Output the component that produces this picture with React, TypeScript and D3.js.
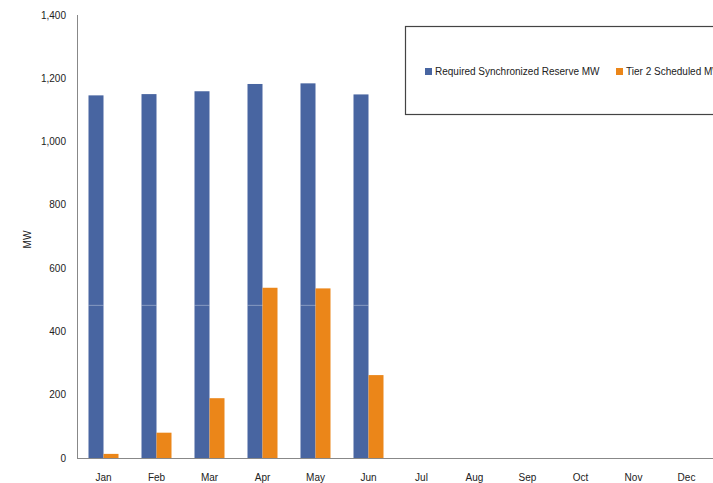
import React from "react";
import * as d3 from "d3";

const months = ["Jan", "Feb", "Mar", "Apr", "May", "Jun", "Jul", "Aug", "Sep", "Oct", "Nov", "Dec"];
const requiredMW: (number | null)[] = [1146, 1150, 1159, 1182, 1184, 1149, null, null, null, null, null, null];
const tier2MW: (number | null)[] = [13, 80, 189, 538, 536, 262, null, null, null, null, null, null];
const seriesNames = ["Required Synchronized Reserve MW", "Tier 2 Scheduled MW"];
const seriesColors = ["#4865A1", "#EB8619"];
const yTicks = [0, 200, 400, 600, 800, 1000, 1200, 1400];
const seamValue = 484;

const W = 713;
const H = 483;
const left = 77;
const right = 713;
const top = 15;
const bottom = 458;

export default function App() {
  const x = d3.scaleBand<string>().domain(months).range([left, right]).paddingInner(0.434).paddingOuter(0.217);
  const x1 = d3.scaleBand<number>().domain([0, 1]).range([0, x.bandwidth()]);
  const y = d3.scaleLinear().domain([0, 1400]).range([bottom, top]);
  const fmt = d3.format(",");
  const series = [requiredMW, tier2MW];
  const font = "'Liberation Sans', Arial, sans-serif";

  return (
    <svg width={W} height={H} style={{ position: "absolute", left: 0, top: 0 }} fontFamily={font}>
      <rect x={0} y={0} width={W} height={H} fill="#fff" />
      {series.map((vals, si) =>
        vals.map((v, i) =>
          v == null ? null : (
            <rect
              key={`${si}-${i}`}
              x={(x(months[i]) as number) + (x1(si) as number)}
              y={y(v)}
              width={x1.bandwidth()}
              height={y(0) - y(v)}
              fill={seriesColors[si]}
            />
          )
        )
      )}
      {requiredMW.map((v, i) =>
        v == null || v < seamValue ? null : (
          <line
            key={`seam-${i}`}
            x1={x(months[i]) as number}
            x2={(x(months[i]) as number) + x1.bandwidth()}
            y1={y(seamValue) + 0.5}
            y2={y(seamValue) + 0.5}
            stroke="#ffffff"
            strokeOpacity={0.35}
          />
        )
      )}
      <line x1={left + 0.5} x2={left + 0.5} y1={top} y2={bottom} stroke="#888" />
      <line x1={left} x2={right} y1={bottom + 0.5} y2={bottom + 0.5} stroke="#888" />
      {yTicks.map((t) => (
        <text key={t} x={66} y={y(t)} dy="0.35em" textAnchor="end" fontSize={10} fill="#222">
          {fmt(t)}
        </text>
      ))}
      {months.map((m) => (
        <text key={m} x={(x(m) as number) + x.bandwidth() / 2} y={477} dy="0.35em" textAnchor="middle" fontSize={10} fill="#222">
          {m}
        </text>
      ))}
      <text transform={`translate(27,${(top + bottom) / 2 + 3}) rotate(-90)`} textAnchor="middle" dy="0.35em" fontSize={10} fill="#222">
        MW
      </text>
      <rect x={405.5} y={26.5} width={320} height={88} fill="#fff" stroke="#444" strokeWidth={1.2} />
      {seriesNames.map((n, i) => {
        const lx = i === 0 ? 425 : 616;
        return (
          <g key={n}>
            <rect x={lx} y={68} width={7} height={7} fill={seriesColors[i]} />
            <text x={lx + 10} y={71.5} dy="0.35em" fontSize={10} fill="#222">
              {n}
            </text>
          </g>
        );
      })}
    </svg>
  );
}
